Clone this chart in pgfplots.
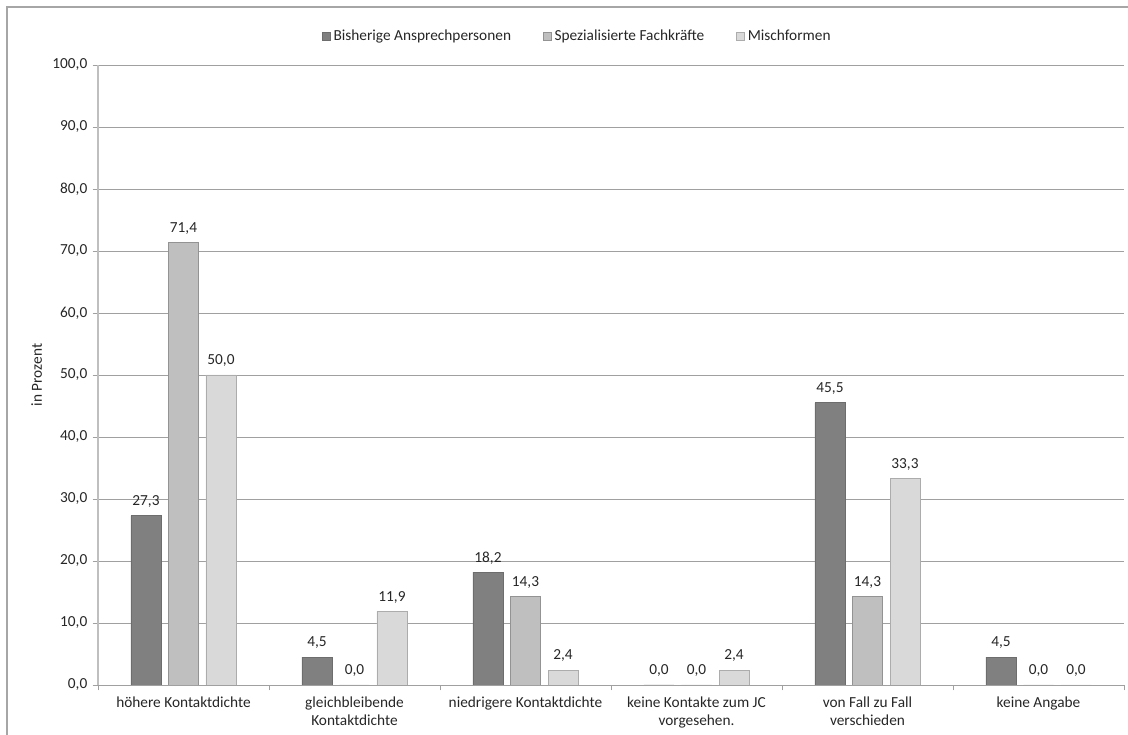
\documentclass[border=0pt]{standalone}
\usepackage{pgfplots}
\pgfplotsset{compat=1.18}
\usepackage{fontspec}
\setmainfont{Carlito}
\definecolor{cA}{HTML}{808080}
\definecolor{cB}{HTML}{BFBFBF}
\definecolor{cC}{HTML}{D9D9D9}
\definecolor{gridc}{HTML}{A0A0A0}
\definecolor{txt}{HTML}{262626}
\newcommand{\cf}{\fontsize{11.5}{13.5}\selectfont}
\begin{document}
\cf
\begin{tikzpicture}
\path[use as bounding box] (0,0) rectangle (846pt,551.25pt);
\draw[gray!70, line width=0.8pt] (5.25pt,0) -- (5.25pt,546pt) -- (846pt,546pt);
\begin{axis}[
  at={(73.5pt,37.5pt)}, anchor=south west,
  scale only axis, width=769.5pt, height=465pt,
  ybar=5.625pt, bar width=22.5pt,
  xmin=-0.5, xmax=5.5, ymin=0, ymax=100,
  xtick={0,1,2,3,4,5},
  xticklabels={{höhere Kontaktdichte},{gleichbleibende\\Kontaktdichte},{niedrigere Kontaktdichte},{keine Kontakte zum JC\\vorgesehen.},{von Fall zu Fall\\verschieden},{keine Angabe}},
  major x tick style={draw=none},
  minor xtick={-0.5,0.5,1.5,2.5,3.5,4.5,5.5},
  minor x tick style={gridc},
  tick align=outside,
  minor tick length=4pt, major tick length=4pt,
  ytick={0,10,...,100},
  y tick style={gridc},
  yticklabel style={/pgf/number format/.cd, fixed, zerofill, precision=1, use comma, assume math mode=true},
  ymajorgrids, grid style={gridc, line width=0.6pt},
  axis x line*=bottom, axis y line*=left,
  x axis line style={gridc, line width=0.6pt},
  y axis line style={gray!50, line width=1pt},
  tick label style={font=\cf, text=txt},
  xticklabel style={align=center, yshift=-1pt},
  ylabel={in Prozent}, ylabel style={font=\cf, text=txt},
  nodes near coords={\pgfmathprintnumber[fixed,zerofill,precision=1,use comma,assume math mode=true]{\pgfplotspointmeta}},
  every node near coord/.append style={font=\cf, text=txt, yshift=2pt},
  legend style={at={(0.5,1)}, anchor=south, yshift=12.5pt, xshift=-25pt, draw=none, fill=none,
    legend columns=3, font=\cf, text=txt,
    /tikz/every even column/.append style={column sep=22pt}},
  legend image code/.code={\draw[#1] (0pt,-3pt) rectangle (6pt,3pt);},
]
\addplot[fill=cA, draw=cA!85!black, line width=0.6pt] coordinates {(0,27.3) (1,4.5) (2,18.2) (3,0.0) (4,45.5) (5,4.5)};
\addplot[fill=cB, draw=gray!85, line width=0.6pt] coordinates {(0,71.4) (1,0.0) (2,14.3) (3,0.0) (4,14.3) (5,0.0)};
\addplot[fill=cC, draw=gray!65, line width=0.6pt] coordinates {(0,50.0) (1,11.9) (2,2.4) (3,2.4) (4,33.3) (5,0.0)};
\legend{Bisherige Ansprechpersonen, Spezialisierte Fachkräfte, Mischformen}
\end{axis}
\end{tikzpicture}
\end{document}
